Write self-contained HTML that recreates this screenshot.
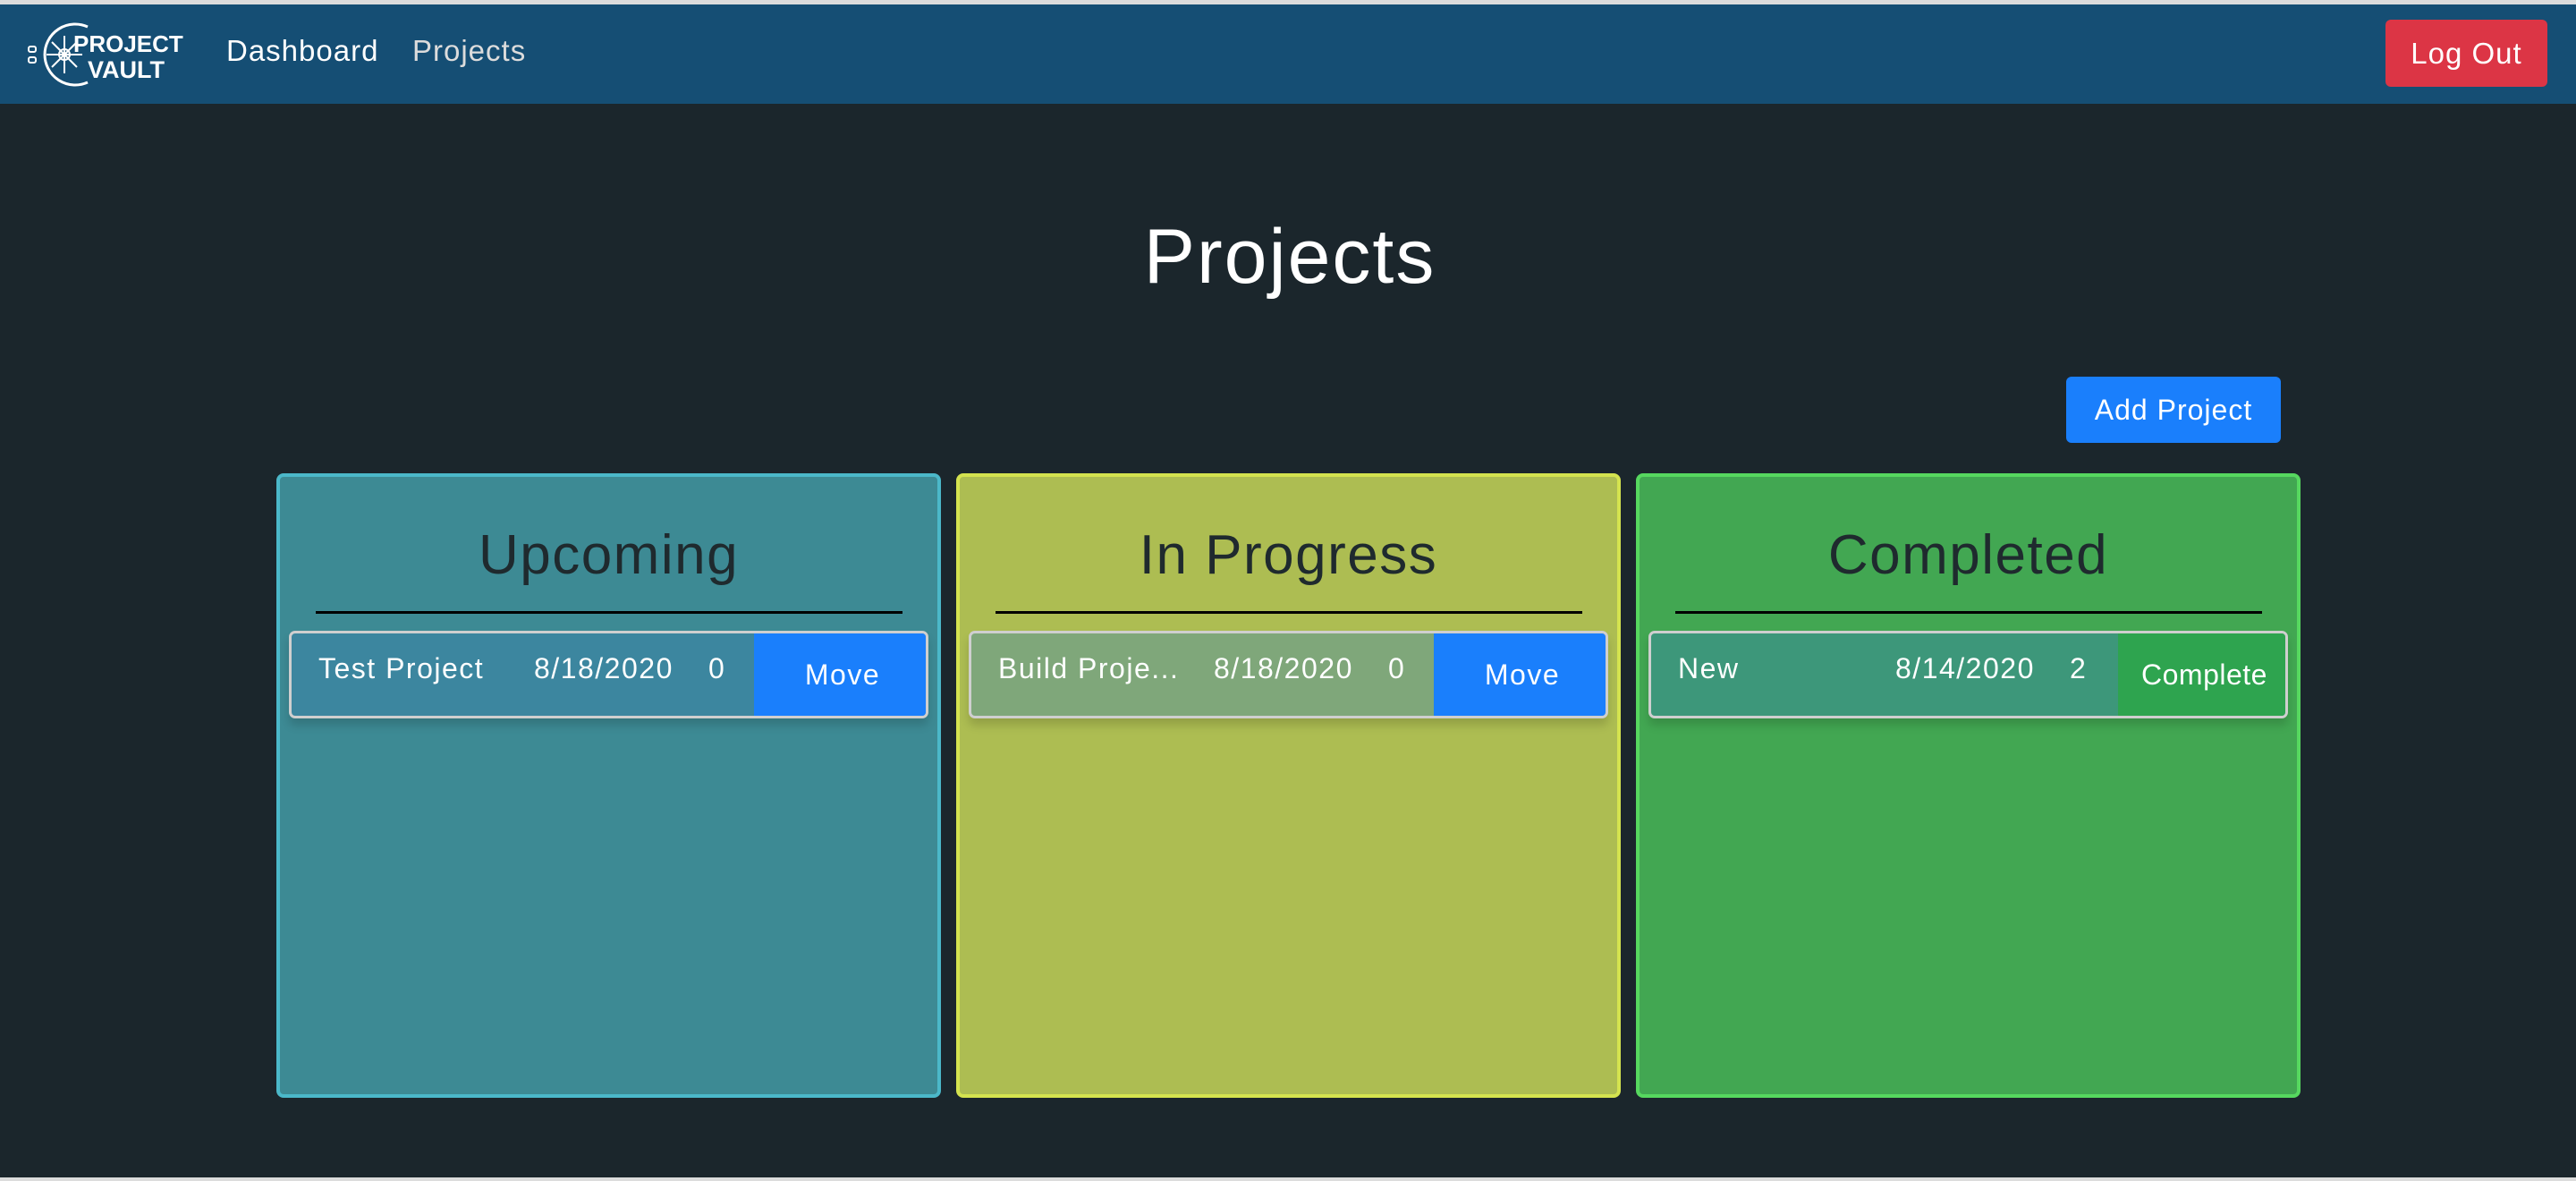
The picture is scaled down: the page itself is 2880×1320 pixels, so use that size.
<!DOCTYPE html>
<html><head><meta charset="utf-8"><style>
*{box-sizing:border-box;margin:0;padding:0}
body{width:2880px;height:1320px;background:#1b262c;position:relative;overflow:hidden;font-family:"Liberation Sans",sans-serif;color:#fff}
.a{position:absolute}
.nav{left:0;top:0;width:2880px;height:116px;background:#154e74;border-top:5px solid #dcdcdc}
.bot{left:0;top:1316px;width:2880px;height:4px;background:#dcdcdc}
.card{border:4px solid;border-radius:8px}
.h{width:100%;text-align:center;font-size:62px;letter-spacing:1.5px;color:#1f2a2e;top:52px}
.ln{height:3px;background:#000;top:150px}
.row{border:3px solid #cfcfcf;border-radius:7px;height:98px;overflow:hidden;box-shadow:0 8px 10px rgba(0,0,0,.15)}
.t{font-size:32px;letter-spacing:1.5px;top:21px;color:#fff}
.btn{top:0;height:92px;font-size:32px;letter-spacing:1.5px;display:flex;align-items:center;justify-content:center;color:#fff}
</style></head><body>
<div class="a nav"></div>
<svg class="a" style="left:28px;top:22px" width="190" height="78" viewBox="0 0 190 78">
<path d="M70 8 A34 34 0 1 0 70 70" fill="none" stroke="#fff" stroke-width="3"/>
<circle cx="44" cy="39" r="6" fill="none" stroke="#fff" stroke-width="2"/>
<g stroke="#fff" stroke-width="2"><line x1="44" y1="18" x2="44" y2="60"/><line x1="24" y1="39" x2="64" y2="39"/><line x1="30" y1="25" x2="58" y2="53"/><line x1="58" y1="25" x2="30" y2="53"/></g>
<rect x="4" y="30" width="8" height="6" rx="2" fill="none" stroke="#fff" stroke-width="2"/><rect x="4" y="42" width="8" height="6" rx="2" fill="none" stroke="#fff" stroke-width="2"/>
<text x="54" y="36" font-family="Liberation Sans" font-weight="bold" font-size="26" fill="#fff">PROJECT</text>
<text x="70" y="65" font-family="Liberation Sans" font-weight="bold" font-size="27" fill="#fff">VAULT</text>
</svg>
<div class="a" style="left:253px;top:38px;font-size:33px;letter-spacing:1px;color:#fff">Dashboard</div>
<div class="a" style="left:461px;top:38px;font-size:33px;letter-spacing:1px;color:#dcdcdc">Projects</div>
<div class="a" style="left:2667px;top:22px;width:181px;height:75px;background:#dc3545;border-radius:6px;font-size:33px;letter-spacing:1px;display:flex;align-items:center;justify-content:center">Log Out</div>
<div class="a" style="left:0;width:2884px;top:238px;text-align:center;font-size:86px;letter-spacing:2px">Projects</div>
<div class="a" style="left:2310px;top:421px;width:240px;height:74px;background:#1a7ffc;border-radius:6px;font-size:32px;letter-spacing:1px;display:flex;align-items:center;justify-content:center">Add Project</div>

<div class="a card" style="left:309px;top:529px;width:743px;height:698px;background:#3d8a94;border-color:#4bb8c9">
 <div class="a h">Upcoming</div><div class="a ln" style="left:40px;width:656px"></div>
 <div class="a row" style="left:10px;top:172px;width:715px;background:#3c869f">
  <div class="a t" style="left:30px">Test Project</div><div class="a t" style="left:271px">8/18/2020</div><div class="a t" style="left:466px">0</div>
  <div class="a btn" style="left:517px;width:198px;background:#1a7ffc">Move</div></div>
</div>
<div class="a card" style="left:1069px;top:529px;width:743px;height:698px;background:#adbd52;border-color:#d4e34f">
 <div class="a h">In Progress</div><div class="a ln" style="left:40px;width:656px"></div>
 <div class="a row" style="left:10px;top:172px;width:715px;background:#7fa77a">
  <div class="a t" style="left:30px">Build Proje...</div><div class="a t" style="left:271px">8/18/2020</div><div class="a t" style="left:466px">0</div>
  <div class="a btn" style="left:517px;width:198px;background:#1a7ffc">Move</div></div>
</div>
<div class="a card" style="left:1829px;top:529px;width:743px;height:698px;background:#42a752;border-color:#56d85f">
 <div class="a h">Completed</div><div class="a ln" style="left:40px;width:656px"></div>
 <div class="a row" style="left:10px;top:172px;width:715px;background:#3d977a">
  <div class="a t" style="left:30px">New</div><div class="a t" style="left:273px">8/14/2020</div><div class="a t" style="left:468px">2</div>
  <div class="a btn" style="left:522px;width:193px;background:#2ea44f;letter-spacing:0.5px">Complete</div></div>
</div>
<div class="a bot"></div>
</body></html>
